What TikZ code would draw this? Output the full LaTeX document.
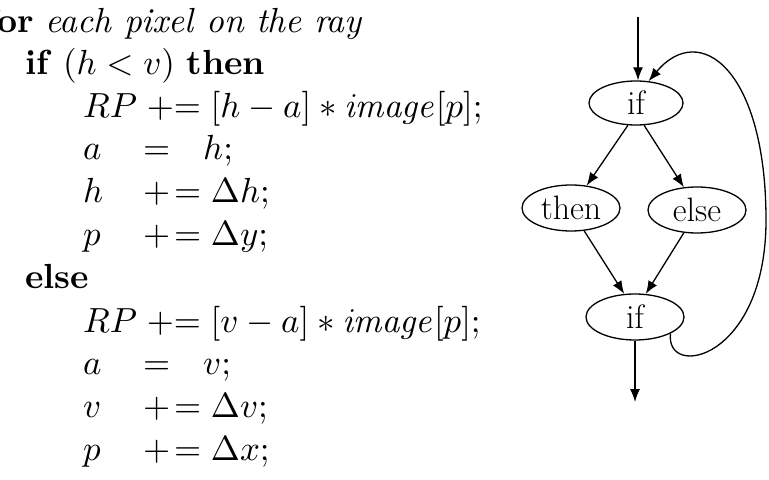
\documentclass[tikz,border=0pt]{standalone}
\usepackage{amsmath}
\usepackage{graphicx}
\usepackage{tikz}
\usetikzlibrary{shapes.geometric, arrows.meta, positioning}
\newcommand{\codetxt}[1]{\scalebox{3.5}{#1}}

\begin{document}
\begin{tikzpicture}[x=1bp,y=-1bp,
  line/.style={anchor=base west,inner sep=0pt},
  blk/.style={ellipse,draw,line width=1.3bp,inner sep=0pt,font=\fontsize{34}{40}\selectfont},
  flow/.style={-{Latex[length=13bp,width=10bp]},line width=1.3bp}]
\useasboundingbox (0,0) rectangle (769,480);
\clip (0,0) rectangle (769,480);

% pseudo code
\node (lfor) [line] at (-15,33) {\codetxt{\textbf{for} \textit{each pixel on the ray}}};
\node (lif) [line] at (25,75) {\codetxt{\textbf{if} $(h<v)$ \textbf{then}}};
\node (lthen1) [line] at (83,118) {\codetxt{$RP \mathrel{+}= [h-a]*\mathit{image}[p];$}};
\node (lthen2) [line] at (83,160) {\codetxt{$a$}};
\node [line] at (143,160) {\codetxt{$=$}};
\node [line] at (203,160) {\codetxt{$h;$}};
\node (lthen3) [line] at (83,203) {\codetxt{$h$}};
\node [line] at (143,203) {\codetxt{$+\!=\Delta h;$}};
\node (lthen4) [line] at (83,246) {\codetxt{$p$}};
\node [line] at (143,246) {\codetxt{$+\!=\Delta y;$}};
\node (lelse) [line] at (25,289) {\codetxt{\textbf{else}}};
\node (lelse1) [line] at (83,332) {\codetxt{$RP \mathrel{+}= [v-a]*\mathit{image}[p];$}};
\node (lelse2) [line] at (83,374) {\codetxt{$a$}};
\node [line] at (143,374) {\codetxt{$=$}};
\node [line] at (203,374) {\codetxt{$v;$}};
\node (lelse3) [line] at (83,417) {\codetxt{$v$}};
\node [line] at (143,417) {\codetxt{$+\!=\Delta v;$}};
\node (lelse4) [line] at (83,460) {\codetxt{$p$}};
\node [line] at (143,460) {\codetxt{$+\!=\Delta x;$}};

% control flow graph
\node (top) [blk,minimum width=94bp,minimum height=44bp] at (636,103) {if};
\node (then) [blk,minimum width=98bp,minimum height=46bp] at (571,208) {then};
\node (else) [blk,minimum width=98bp,minimum height=46bp] at (697,210) {else};
\node (bot) [blk,minimum width=98bp,minimum height=46bp] at (635,317) {if};
\coordinate (in) at (638,17);
\coordinate (out) at (635,402);

\draw [flow] (in) -- (in |- top.north);
\draw [flow] (top.250) -- (then.55);
\draw [flow] (top.290) -- (else.120);
\draw [flow] (then.300) -- (bot.115);
\draw [flow] (else.240) -- (bot.65);
\draw [flow] (bot.south) -- (out);
\draw [flow] (bot.-25) .. controls (665,380) and (766,360) .. (766,220)
  .. controls (766,70) and (700,20) .. (top.60);
\end{tikzpicture}
\end{document}
